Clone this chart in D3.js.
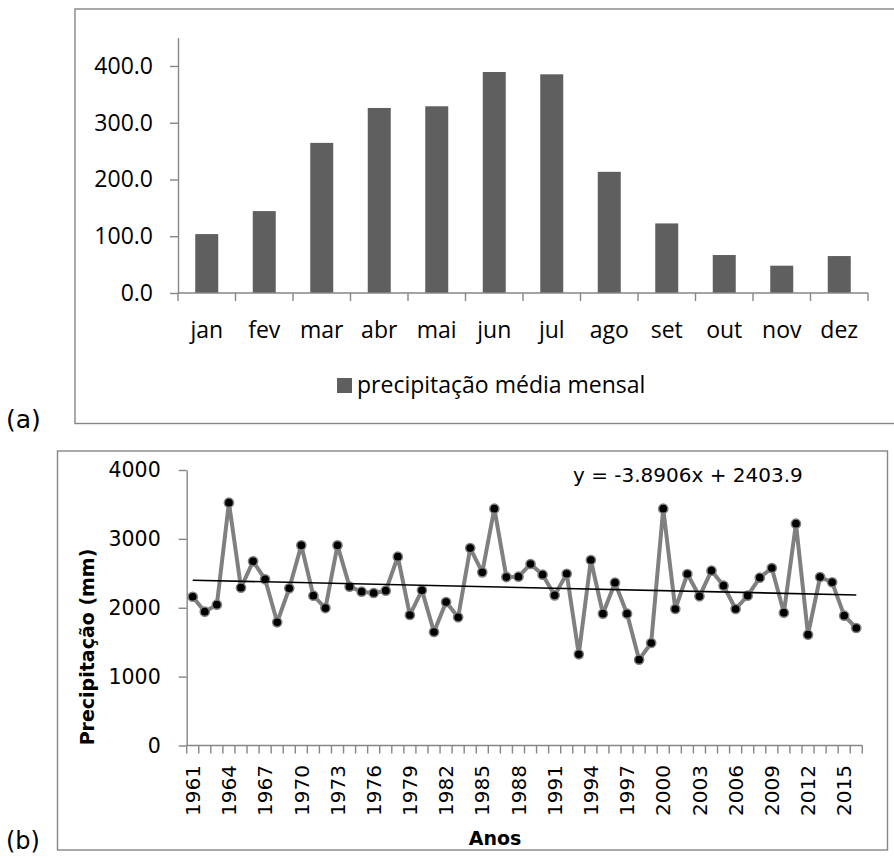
<!DOCTYPE html>
<html><head><meta charset="utf-8">
<script src="https://cdn.jsdelivr.net/npm/d3@7"></script>
<style>html,body{margin:0;padding:0;background:#fff}svg{display:block}</style>
</head><body>
<script>
// ---- Data ----
const months = ["jan","fev","mar","abr","mai","jun","jul","ago","set","out","nov","dez"];
const monthlyMean = [103.8,144.3,264.5,326,329,389.4,385.3,213.5,122.6,66.9,48.1,65.1];
const monthlyTicks = [0,100,200,300,400];
const legendLabel = "precipitação média mensal";

const years = d3.range(1961, 2017);
const annualPrecip = [2160,1943,2044,3525,2291,2674,2413,1789,2282,2906,
  2175,1996,2906,2306,2233,2214,2248,2741,1895,2253,
  1648,2083,1861,2867,2514,3438,2446,2451,2635,2480,
  2180,2494,1324,2693,1914,2364,1914,1246,1488,3438,
  1982,2490,2166,2538,2320,1982,2175,2436,2577,1928,
  3220,1609,2446,2369,1885,1706];
const annualTicks = [0,1000,2000,3000,4000];
const yearLabels = d3.range(1961, 2016, 3);
const trendSlope = -3.8906, trendIntercept = 2403.9;
const trendLabel = "y = -3.8906x + 2403.9";

// ---- Drawing ----
const W = 894, H = 857;
const svg = d3.select("body").append("svg").attr("width", W).attr("height", H);
const gray = "#868686";

// Panel frames
svg.append("rect").attr("x",75).attr("y",9).attr("width",840).attr("height",414.5)
  .attr("fill","none").attr("stroke",gray).attr("stroke-width",1.4);
svg.append("rect").attr("x",57.5).attr("y",451).attr("width",830).attr("height",399)
  .attr("fill","none").attr("stroke",gray).attr("stroke-width",1.4);

// ---------- Panel (a) ----------
const fa = "'Open Sans', sans-serif";
const xa = d3.scaleBand().domain(months).range([178, 868]).paddingInner(0.6).paddingOuter(0.3);
const ya = d3.scaleLinear().domain([0,450]).range([293, 37.6]);
const ga = svg.append("g");

ga.selectAll("rect.bar").data(months).join("rect").attr("class","bar")
  .attr("x", d => xa(d)).attr("width", xa.bandwidth())
  .attr("y", (d,i) => ya(monthlyMean[i])).attr("height", (d,i) => ya(0) - ya(monthlyMean[i]))
  .attr("fill","#5f5f5f");

const yaxA = ga.append("g").attr("transform","translate(178,0)")
  .call(d3.axisLeft(ya).tickValues(monthlyTicks).tickFormat(d3.format(".1f"))
    .tickSize(8).tickSizeOuter(0).tickPadding(17));
yaxA.selectAll("path,line").attr("stroke",gray).attr("stroke-width",1.4);
yaxA.selectAll("text").attr("font-family",fa).attr("font-size",23).attr("fill","#000");

// x axis (a) with ticks at category boundaries
const stepA = xa.step();
const x0A = 178;
ga.append("line").attr("x1",178).attr("x2",868).attr("y1",ya(0)).attr("y2",ya(0))
  .attr("stroke",gray).attr("stroke-width",1.4);
ga.selectAll("line.tk").data(d3.range(months.length+1)).join("line").attr("class","tk")
  .attr("x1", i => x0A + i*stepA).attr("x2", i => x0A + i*stepA)
  .attr("y1", ya(0)).attr("y2", ya(0)+8).attr("stroke",gray).attr("stroke-width",1.4);
ga.selectAll("text.xl").data(months).join("text").attr("class","xl")
  .attr("x", d => xa(d) + xa.bandwidth()/2).attr("y", 338)
  .attr("text-anchor","middle").attr("font-family",fa).attr("font-size",23).text(d => d);

// legend
ga.append("rect").attr("x",337).attr("y",378).attr("width",15).attr("height",15).attr("fill","#5f5f5f");
ga.append("text").attr("x",357).attr("y",393).attr("font-family",fa).attr("font-size",23).text(legendLabel);

svg.append("text").attr("x",6).attr("y",428).attr("font-family","'DejaVu Sans', sans-serif")
  .attr("font-size",25).text("(a)");

// ---------- Panel (b) ----------
const fb = "'DejaVu Sans', sans-serif";
const xb = d3.scaleBand().domain(years).range([186.7, 862.3]);
const yb = d3.scaleLinear().domain([0,4000]).range([745.5, 470]);
const gb = svg.append("g");
const cx = y => xb(y) + xb.bandwidth()/2;

const yaxB = gb.append("g").attr("transform","translate(186.7,0)")
  .call(d3.axisLeft(yb).tickValues(annualTicks).tickFormat(d3.format("d"))
    .tickSize(8).tickSizeOuter(0).tickPadding(18));
yaxB.selectAll("path,line").attr("stroke",gray).attr("stroke-width",1.4);
yaxB.selectAll("text").attr("font-family",fb).attr("font-size",20.5).attr("fill","#000");

gb.append("line").attr("x1",186.7).attr("x2",862.3).attr("y1",yb(0)).attr("y2",yb(0))
  .attr("stroke",gray).attr("stroke-width",1.4);
gb.selectAll("line.tk").data(d3.range(years.length+1)).join("line").attr("class","tk")
  .attr("x1", i => 186.7 + i*xb.step()).attr("x2", i => 186.7 + i*xb.step())
  .attr("y1", yb(0)).attr("y2", yb(0)+8).attr("stroke",gray).attr("stroke-width",1.4);
gb.selectAll("text.yl").data(yearLabels).join("text").attr("class","yl")
  .attr("transform", d => `translate(${cx(d)},765) rotate(-90)`)
  .attr("dy","0.36em").attr("text-anchor","end")
  .attr("font-family",fb).attr("font-size",20).text(d => d);

// series line
const line = d3.line().x((d,i) => cx(years[i])).y(d => yb(d));
gb.append("path").datum(annualPrecip).attr("d", line)
  .attr("fill","none").attr("stroke","#808080").attr("stroke-width",4).attr("stroke-linejoin","round");
gb.selectAll("circle").data(annualPrecip).join("circle")
  .attr("cx",(d,i) => cx(years[i])).attr("cy", d => yb(d)).attr("r",4.6)
  .attr("fill","#000").attr("stroke","#808080").attr("stroke-width",1.5);

// trend line
const n = years.length;
gb.append("line")
  .attr("x1", cx(years[0])).attr("y1", yb(trendSlope*1 + trendIntercept))
  .attr("x2", cx(years[n-1])).attr("y2", yb(trendSlope*n + trendIntercept))
  .attr("stroke","#000").attr("stroke-width",1.6);

gb.append("text").attr("x",573).attr("y",482).attr("font-family",fb).attr("font-size",20).text(trendLabel);

// axis titles
gb.append("text").attr("transform","translate(94,647) rotate(-90)").attr("text-anchor","middle")
  .attr("font-family",fb).attr("font-weight","bold").attr("font-size",19).text("Precipitação (mm)");
gb.append("text").attr("x",495).attr("y",845).attr("text-anchor","middle")
  .attr("font-family",fb).attr("font-weight","bold").attr("font-size",19).text("Anos");

svg.append("text").attr("x",6).attr("y",849).attr("font-family",fb).attr("font-size",24).text("(b)");
</script>
</body></html>
